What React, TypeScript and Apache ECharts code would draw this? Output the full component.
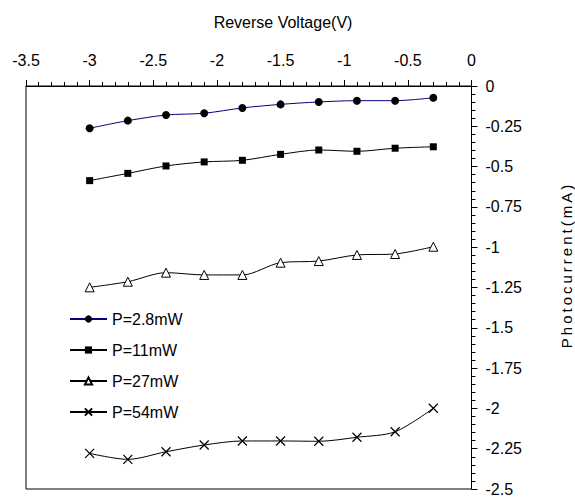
import React, { useEffect, useRef } from "react";
import * as echarts from "echarts";

const voltages = [-3, -2.7, -2.4, -2.1, -1.8, -1.5, -1.2, -0.9, -0.6, -0.3];
const p28 = [-0.262, -0.215, -0.18, -0.169, -0.136, -0.114, -0.099, -0.091, -0.091, -0.073];
const p11 = [-0.587, -0.542, -0.496, -0.471, -0.461, -0.424, -0.397, -0.405, -0.386, -0.377];
const p27 = [-1.249, -1.214, -1.158, -1.172, -1.172, -1.096, -1.086, -1.048, -1.042, -0.997];
const p54 = [-2.279, -2.316, -2.269, -2.227, -2.202, -2.202, -2.204, -2.179, -2.145, -1.999];
const seriesNames = ["P=2.8mW", "P=11mW", "P=27mW", "P=54mW"];
const xTitle = "Reverse Voltage(V)";
const yTitle = "Photocurrent(mA)";

const FONT = "Liberation Sans, Arial, sans-serif";

function pairs(ys: number[]) {
  return voltages.map((x, i) => [x, ys[i]]);
}

export default function App() {
  const ref = useRef<HTMLDivElement>(null);
  useEffect(() => {
    if (!ref.current) return;
    const chart = echarts.init(ref.current, null, { renderer: "svg" });
    const common = {
      type: "line",
      smooth: 0.3,
      showSymbol: true,
    };
    chart.setOption({
      animation: false,
      backgroundColor: "#fff",
      textStyle: { fontFamily: FONT, color: "#000" },
      grid: {
        left: 26,
        right: 103.5,
        top: 86,
        bottom: 8,
        show: true,
        borderColor: "#000",
        borderWidth: 1,
        backgroundColor: "transparent",
      },
      xAxis: {
        type: "value",
        position: "top",
        min: -3.5,
        max: 0,
        interval: 0.5,
        axisLine: { show: true, onZero: false, lineStyle: { color: "#000", width: 1 } },
        axisTick: { show: true, inside: false, length: 6, lineStyle: { color: "#000" } },
        minorTick: { show: true, splitNumber: 5, length: 4, lineStyle: { color: "#000" } },
        splitLine: { show: false },
        axisLabel: { color: "#000", fontSize: 16, fontFamily: FONT, margin: 18 },
      },
      yAxis: {
        type: "value",
        position: "right",
        min: -2.5,
        max: 0,
        interval: 0.25,
        axisLine: { show: true, onZero: false, lineStyle: { color: "#000", width: 1 } },
        axisTick: { show: true, inside: false, length: 6, lineStyle: { color: "#000" } },
        minorTick: { show: true, splitNumber: 5, length: 4, lineStyle: { color: "#000" } },
        splitLine: { show: false },
        axisLabel: { color: "#000", fontSize: 16, fontFamily: FONT, margin: 14 },
      },
      legend: {
        orient: "vertical",
        left: 69,
        top: 311,
        padding: 0,
        itemWidth: 37,
        itemHeight: 9,
        itemGap: 15,
        data: seriesNames,
        textStyle: { color: "#000", fontSize: 16, fontFamily: FONT },
      },
      graphic: [
        {
          type: "text",
          x: 283,
          y: 22,
          style: {
            text: xTitle,
            fill: "#000",
            font: `16px ${FONT}`,
            textAlign: "center",
            textVerticalAlign: "middle",
          },
        },
        {
          type: "text",
          x: 566,
          y: 265,
          rotation: Math.PI / 2,
          style: {
            text: yTitle,
            fill: "#000",
            font: `15px ${FONT}`,
            textAlign: "center",
            textVerticalAlign: "middle",
          },
        },
      ],
      series: [
        {
          ...common,
          name: seriesNames[0],
          data: pairs(p28),
          symbol: "circle",
          symbolSize: 8,
          itemStyle: { color: "#000" },
          lineStyle: { color: "#000080", width: 1 },
        },
        {
          ...common,
          name: seriesNames[1],
          data: pairs(p11),
          symbol: "rect",
          symbolSize: 7,
          itemStyle: { color: "#000" },
          lineStyle: { color: "#000", width: 1 },
        },
        {
          ...common,
          name: seriesNames[2],
          data: pairs(p27),
          symbol: "triangle",
          symbolSize: 9,
          itemStyle: { color: "#fff", borderColor: "#000", borderWidth: 1 },
          lineStyle: { color: "#000", width: 1 },
        },
        {
          ...common,
          name: seriesNames[3],
          data: pairs(p54),
          symbol: "path://M0,0L10,10M10,0L0,10",
          symbolSize: 9,
          itemStyle: { color: "#000", borderColor: "#000", borderWidth: 1.2 },
          lineStyle: { color: "#000", width: 1 },
        },
      ],
    });
    // widen letter spacing of the vertical title, as in the reference
    const texts = ref.current.querySelectorAll("text");
    texts.forEach((t) => {
      if (t.textContent === yTitle) {
        t.setAttribute("letter-spacing", "3px");
      }
    });
    return () => chart.dispose();
  }, []);
  return (
    <div
      ref={ref}
      style={{ position: "absolute", left: 0, top: 0, width: 575, height: 497 }}
    />
  );
}
